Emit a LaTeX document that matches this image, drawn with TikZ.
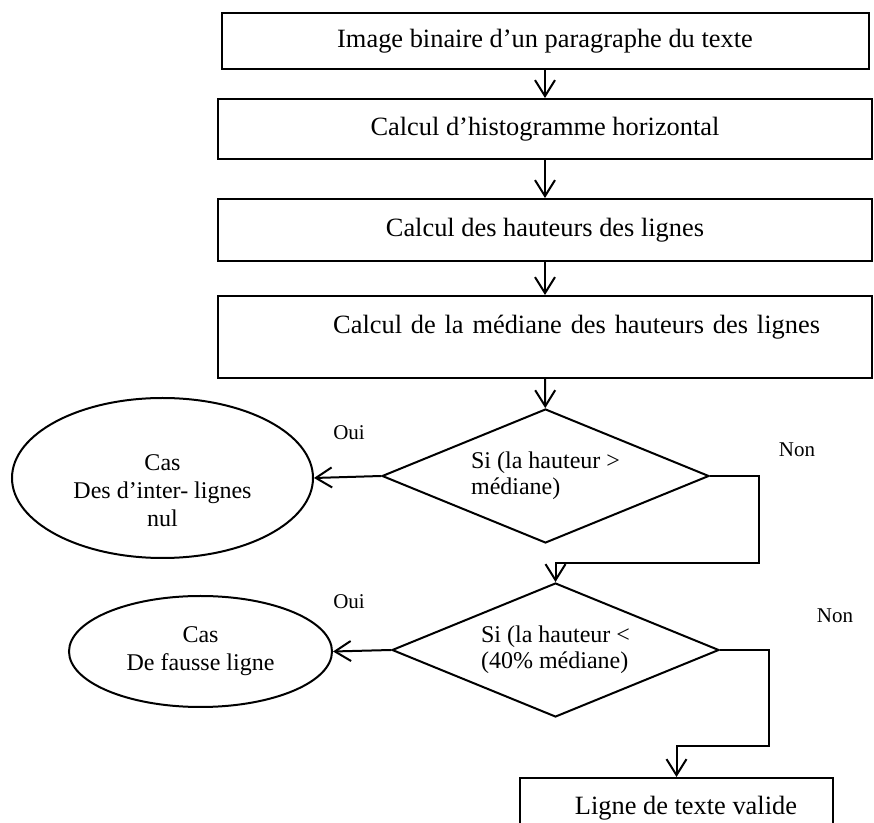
\documentclass[tikz,border=0pt]{standalone}
\usepackage{fontspec}
\setmainfont{Liberation Serif}
\usetikzlibrary{shapes.geometric,arrows.meta}

\tikzset{
  box/.style={draw, rectangle, minimum width=327pt, inner sep=0pt, font=\fontsize{13.2}{16}\selectfont},
  decision/.style={draw, diamond, aspect=2.44, minimum width=163.5pt, minimum height=67pt, inner sep=0pt, align=left, font=\fontsize{12}{13}\selectfont},
  outcome/.style={draw, ellipse, inner sep=0pt, align=center, font=\fontsize{12}{14}\selectfont},
  answer/.style={font=\fontsize{10.5}{12}\selectfont}
}

\begin{document}
\begin{tikzpicture}[x=0.5pt, y=-0.5pt, line width=1pt, >={Straight Barb[length=8pt,width=10pt]}]
    \useasboundingbox (0,0) rectangle (874,823);
    \clip (0,0) rectangle (874,823);

    \node[box, minimum width=323.5pt, minimum height=28pt] (binaire) at (545,41) {Image binaire d’un paragraphe du texte};
    \node[box, minimum height=30pt] (histo) at (545,129) {Calcul d’histogramme horizontal};
    \node[box, minimum height=31pt] (hauteurs) at (545,230) {Calcul des hauteurs des lignes};
    \node[box, minimum height=41pt, text width=275pt, align=right, text depth=13pt] (mediane) at (545,337) {Calcul de la médiane des hauteurs des lignes};

    \node[decision] (test1) at (545.5,476) {Si (la hauteur >\\médiane)};
    \node[outcome, minimum width=150.5pt, minimum height=80pt, text height=49pt] (nul) at (162.5,478) {Cas\\Des d’inter- lignes\\nul};
    \node[decision] (test2) at (555.5,650) {Si (la hauteur <\\(40\% médiane)};
    \node[outcome, minimum width=131.5pt, minimum height=55.5pt] (fausse) at (200.5,651.5) {Cas\\De fausse ligne};
    \node[box, minimum width=156.5pt, minimum height=30pt, text width=120.5pt, align=flush right] (valide) at (676.5,808) {Ligne de texte valide};

    \node[answer] (oui1) at (349,433) {Oui};
    \node[answer] (non1) at (797,450) {Non};
    \node[answer] (oui2) at (349,602) {Oui};
    \node[answer] (non2) at (835,616) {Non};

    \draw[->] (binaire) -- (histo);
    \draw[->] (histo) -- (hauteurs);
    \draw[->] (hauteurs) -- (mediane);
    \draw[->] (mediane) -- (test1);
    \draw[->] (test1.west) -- (nul.east);
    \draw[->] (test1.east) -- ++(49,0) -- ++(0,87) -| (test2.north);
    \draw[->] (test2.west) -- (fausse.east);
    \draw[->] (test2.east) -- ++(49,0) -- ++(0,96) -| (valide.north);
\end{tikzpicture}
\end{document}
